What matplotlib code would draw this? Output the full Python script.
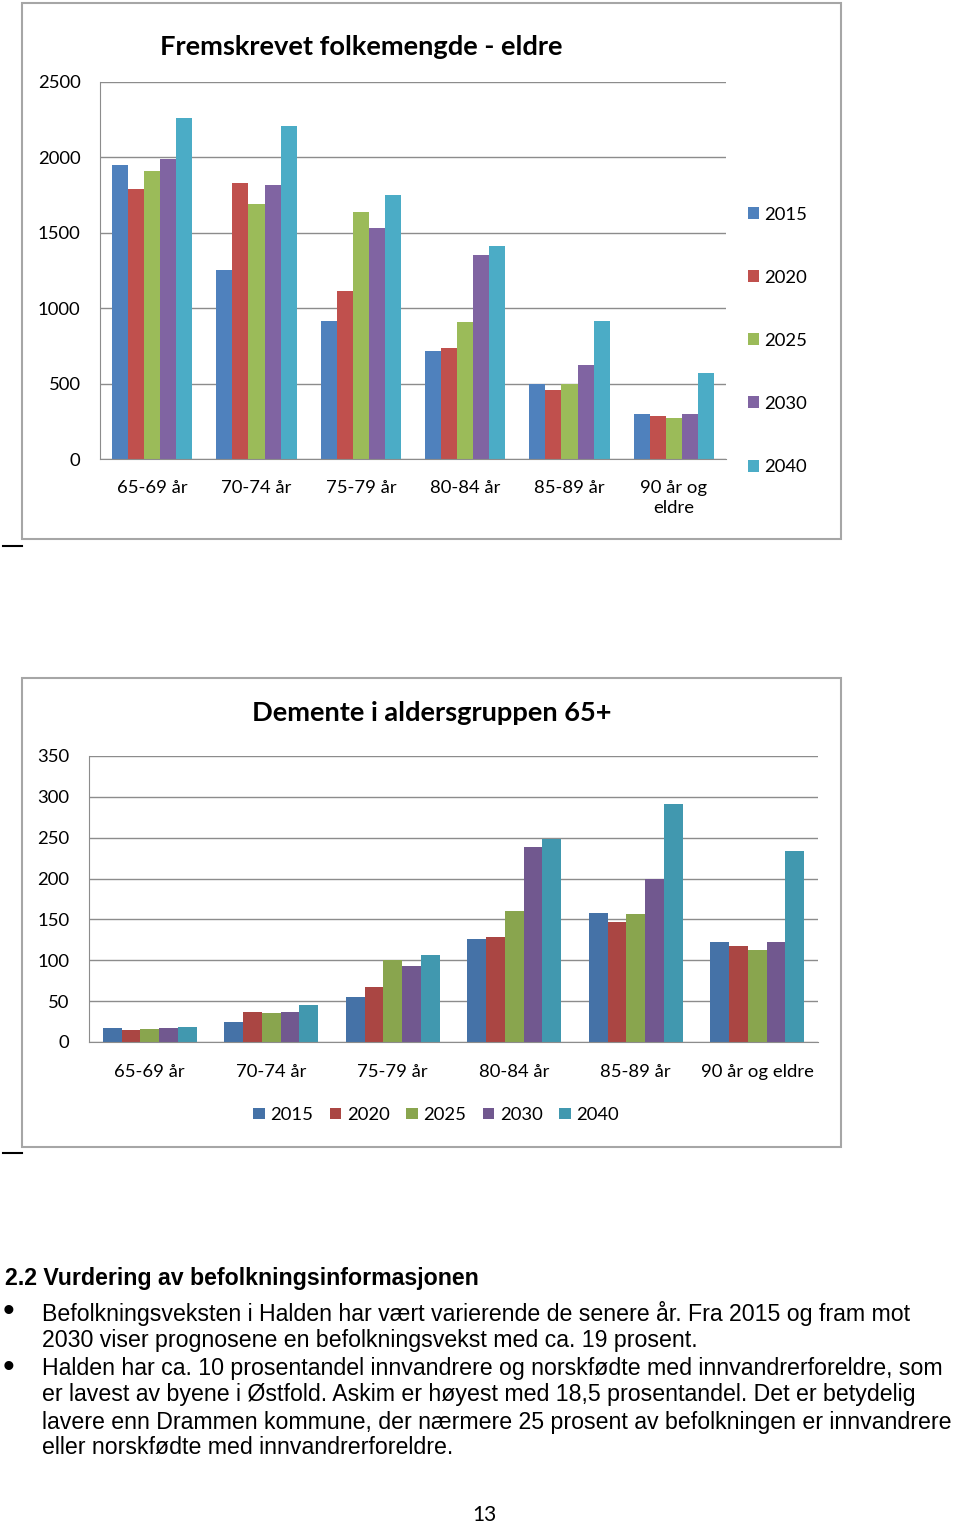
import numpy as np
import matplotlib
matplotlib.use('Agg')
import matplotlib.pyplot as plt
from matplotlib.patches import Rectangle

plt.rcParams['font.family'] = ['Lato', 'DejaVu Sans']

groups = ['65-69 år', '70-74 år', '75-79 år', '80-84 år', '85-89 år', '90 år og\neldre']
groups2 = ['65-69 år', '70-74 år', '75-79 år', '80-84 år', '85-89 år', '90 år og eldre']
years = ['2015', '2020', '2025', '2030', '2040']

# Fremskrevet folkemengde - eldre
folk_2015 = [1950, 1253, 915, 716, 497, 298]
folk_2020 = [1790, 1830, 1114, 736, 458, 285]
folk_2025 = [1910, 1691, 1638, 908, 497, 272]
folk_2030 = [1990, 1817, 1532, 1353, 623, 298]
folk_2040 = [2261, 2208, 1751, 1412, 915, 570]

# Demente i aldersgruppen 65+
dem_2015 = [17, 25, 55, 126, 158, 122]
dem_2020 = [15, 37, 67, 129, 147, 117]
dem_2025 = [16, 35, 100, 160, 157, 113]
dem_2030 = [17, 37, 93, 239, 200, 122]
dem_2040 = [18, 45, 106, 249, 291, 234]

colors1 = ['#4F81BD', '#C0504D', '#9BBB59', '#8064A2', '#4BACC6']
colors2 = ['#4572A7', '#AA4643', '#89A54E', '#71588F', '#4198AF']

W, H = 960, 1525
fig = plt.figure(figsize=(W / 100, H / 100), dpi=100)


def fx(px):
    return px / W


def fy(py):
    return 1 - py / H


def box(x0, y0, x1, y1):
    fig.patches.append(Rectangle((fx(x0), fy(y1)), fx(x1 - x0), fy(y0) - fy(y1),
                                 transform=fig.transFigure, fill=False,
                                 edgecolor='#A6A6A6', linewidth=1.5))


def style_axes(ax, ymax, step):
    ax.set_ylim(0, ymax)
    ax.set_yticks(np.arange(0, ymax + 1, step))
    ax.set_xlim(-0.5, 5.5)
    ax.grid(axis='y', color='#8C8C8C', linewidth=1)
    ax.set_axisbelow(True)
    for s in ['top', 'right']:
        ax.spines[s].set_visible(False)
    for s in ['left', 'bottom']:
        ax.spines[s].set_color('#8C8C8C')
    ax.tick_params(axis='both', length=0, labelsize=13.3, colors='black')
    ax.tick_params(axis='y', pad=14)


box(22, 3, 841, 539)
box(22, 678, 841, 1147)

# chart 1
ax1 = fig.add_axes([fx(100), fy(459), fx(726 - 100), fy(82) - fy(459)])
x = np.arange(len(groups))
bw = 0.154
series1 = [folk_2015, folk_2020, folk_2025, folk_2030, folk_2040]
for i, (vals, c) in enumerate(zip(series1, colors1)):
    ax1.bar(x + (i - 2) * bw, vals, bw, color=c, label=years[i])
style_axes(ax1, 2500, 500)
ax1.set_xticks(x)
ax1.set_xticklabels(groups, linespacing=1.35, va='top')
ax1.tick_params(axis='x', pad=15)
fig.text(fx(160), fy(47), 'Fremskrevet folkemengde - eldre', fontsize=19.6,
         fontweight='bold', ha='left', va='center')
h1, l1 = ax1.get_legend_handles_labels()
fig.legend(h1, l1, loc='upper left', bbox_to_anchor=(fx(731), fy(190)),
           frameon=False, fontsize=13.3, handlelength=0.62, handleheight=0.62,
           handletextpad=0.3, labelspacing=2.55)

# chart 2
ax2 = fig.add_axes([fx(89), fy(1042), fx(818 - 89), fy(756) - fy(1042)])
series2 = [dem_2015, dem_2020, dem_2025, dem_2030, dem_2040]
for i, (vals, c) in enumerate(zip(series2, colors2)):
    ax2.bar(x + (i - 2) * bw, vals, bw, color=c, label=years[i])
style_axes(ax2, 350, 50)
ax2.set_xticks(x)
ax2.set_xticklabels(groups2)
ax2.tick_params(axis='x', pad=16)
fig.text(fx(432), fy(713), 'Demente i aldersgruppen 65+', fontsize=19.6,
         fontweight='bold', ha='center', va='center')
h2, l2 = ax2.get_legend_handles_labels()
fig.legend(h2, l2, loc='center', bbox_to_anchor=(fx(436), fy(1115)),
           ncol=5, frameon=False, fontsize=13.3, handlelength=0.62, handleheight=0.62,
           handletextpad=0.3, columnspacing=0.9)

# small marks at left
for yy in [546, 1153]:
    fig.add_artist(plt.Line2D([fx(3), fx(22)], [fy(yy), fy(yy)], color='black',
                              linewidth=1.5, transform=fig.transFigure))

# text below
body = ['Liberation Sans', 'DejaVu Sans']
fig.text(fx(5), fy(1278), '2.2 Vurdering av befolkningsinformasjonen', family=body,
         fontsize=16.7, fontweight='bold', ha='left', va='center')
lines = [
    (1313, 'Befolkningsveksten i Halden har vært varierende de senere år. Fra 2015 og fram mot', True),
    (1340, '2030 viser prognosene en befolkningsvekst med ca. 19 prosent.', False),
    (1368, 'Halden har ca. 10 prosentandel innvandrere og norskfødte med innvandrerforeldre, som', True),
    (1395, 'er lavest av byene i Østfold. Askim er høyest med 18,5 prosentandel. Det er betydelig', False),
    (1422, 'lavere enn Drammen kommune, der nærmere 25 prosent av befolkningen er innvandrere', False),
    (1448, 'eller norskfødte med innvandrerforeldre.', False),
]
for yy, t, bullet in lines:
    fig.text(fx(42), fy(yy), t, family=body, fontsize=16.7, ha='left', va='center')
    if bullet:
        fig.text(fx(9), fy(yy), '•', family=body, fontsize=24, ha='center', va='center')

fig.text(fx(484), fy(1515), '13', fontsize=15, ha='center', va='center')

fig.savefig('out.png', dpi=100)
